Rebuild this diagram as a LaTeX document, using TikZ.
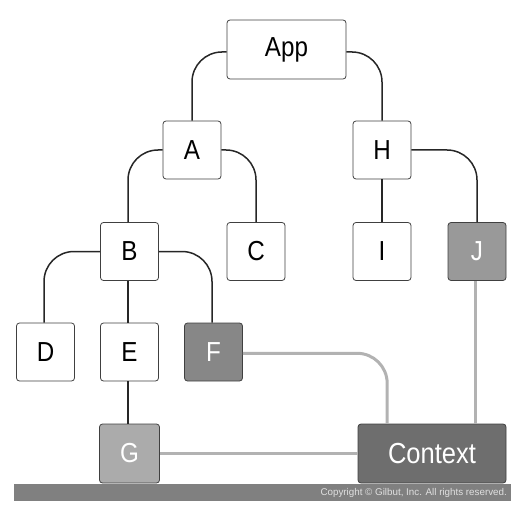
\documentclass[tikz,border=0pt]{standalone}
\usepackage{fontspec}
\setmainfont{Liberation Sans}
\newfontfamily\boxfont[FakeStretch=0.88]{Liberation Sans}
\begin{document}
\begin{tikzpicture}[x=1bp,y=-1bp,
  box/.style={draw=black!75, line width=0.8bp, rounded corners=3bp, fill=white,
    minimum width=58bp, minimum height=58bp, inner sep=0pt,
    font=\boxfont\fontsize{27.5bp}{30bp}\selectfont},
  link/.style={line width=1.5bp, black!85, rounded corners=30bp},
  ctxlink/.style={line width=3bp, color=black!30, rounded corners=30bp},
]
\useasboundingbox (0,0) rectangle (532,514);
% bottom bar
\fill[black!50] (13.5,484) rectangle (511,501);
\node[anchor=east, text=black!12, font=\fontsize{9.8bp}{11bp}\selectfont, inner sep=0pt] (copy) at (507,493) {Copyright \textcopyright{} Gilbut, Inc. All rights reserved.};

% nodes
\node[box, minimum width=119bp, minimum height=59bp] (App) at (286.5,49.5) {App};
\node[box] (A) at (192,150) {A};
\node[box] (H) at (382,150) {H};
\node[box] (B) at (129.5,251.5) {B};
\node[box] (C) at (256,251.5) {C};
\node[box] (I) at (382,251.5) {I};
\node[box, fill=black!40, text=white] (J) at (477,251.5) {J};
\node[box] (D) at (45.5,352) {D};
\node[box] (E) at (129.5,352) {E};
\node[box, fill=black!47, text=white] (F) at (213.5,352) {F};
\node[box, fill=black!33, text=white, minimum width=60bp, minimum height=59bp] (G) at (129.5,453.5) {G};
\node[box, fill=black!57, text=white, minimum width=148bp, minimum height=59bp, font=\boxfont\fontsize{29bp}{32bp}\selectfont] (Ctx) at (432,453.5) {Context};

% tree connectors
\draw[link] ([yshift=-2.5]App.west) -| (A.north);
\draw[link] ([yshift=-2.5]App.east) -| (H.north);
\draw[link] (A.west) -| ([xshift=-1.5]B.north);
\draw[link] (A.east) -| (C.north);
\draw[link] (H.east) -| (J.north);
\draw[link] (H.south) -- (I.north);
\draw[link] (B.west) -| ([xshift=-1.5]D.north);
\draw[link] (B.east) -| ([xshift=-1.5]F.north);
\draw[link] ([xshift=-1.5]B.south) -- ([xshift=-1.5]E.north);
\draw[link] ([xshift=-1.5]E.south) -- ([xshift=-1.5]G.north);
% context connectors
\draw[ctxlink] ([yshift=-1.3]F.east) -| ([xshift=-45]Ctx.north);
\draw[ctxlink] ([xshift=-2]J.south) -- ([xshift=-2]J.south |- Ctx.north);
\draw[ctxlink] (G.east) -- (Ctx.west);
\end{tikzpicture}
\end{document}
